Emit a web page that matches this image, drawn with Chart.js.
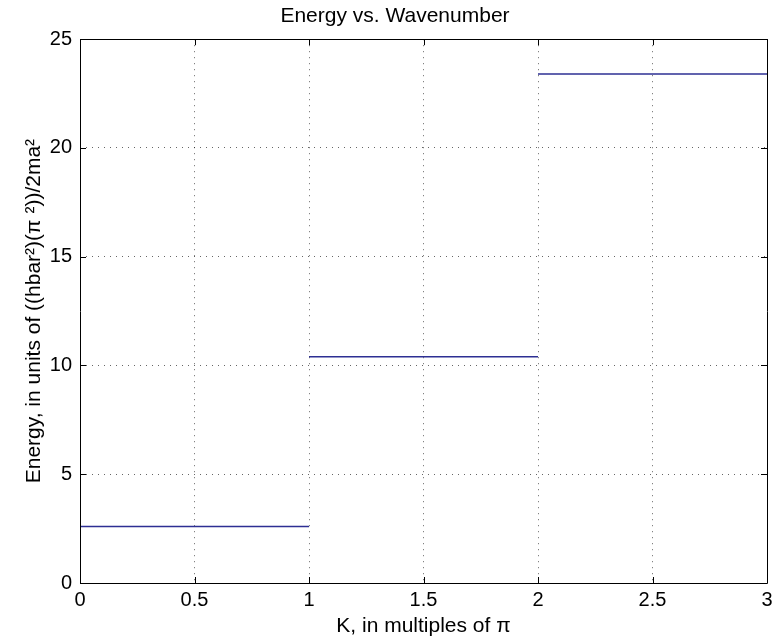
<!DOCTYPE html>
<html>
<head>
<meta charset="utf-8">
<script src="https://cdn.jsdelivr.net/npm/chart.js@4"></script>
<style>
  html, body { margin: 0; padding: 0; background: #fff; }
</style>
</head>
<body>
<canvas id="graph" width="772" height="641"></canvas>
<script>
// one flat band per interval of K
var kStart = [0, 1, 2];
var kEnd = [1, 2, 3];
var energy = [2.6, 10.4, 23.4];

var xTicks = [0, 0.5, 1, 1.5, 2, 2.5, 3];
var yTicks = [0, 5, 10, 15, 20, 25];

var lineColor = '#2d2f93';
var font = "'Liberation Sans', Arial, Helvetica, sans-serif";

var datasets = kStart.map(function (k, i) {
  return {
    label: 'band ' + (i + 1),
    data: [{ x: k, y: energy[i] }, { x: kEnd[i], y: energy[i] }],
    borderColor: lineColor,
    borderWidth: 1.6,
    pointRadius: 0,
    showLine: true,
    fill: false
  };
});

// matlab style box with inward ticks
var boxPlugin = {
  id: 'box',
  afterDraw: function (chart) {
    var ctx = chart.ctx;
    var a = chart.chartArea;
    var xs = chart.scales.x;
    var ys = chart.scales.y;
    var len = 6;
    ctx.save();
    ctx.strokeStyle = '#000';
    ctx.lineWidth = 1;
    ctx.beginPath();
    ctx.rect(Math.round(a.left) + 0.5, Math.round(a.top) + 0.5,
      Math.round(a.right - a.left), Math.round(a.bottom - a.top));
    xTicks.forEach(function (t) {
      var px = Math.round(xs.getPixelForValue(t)) + 0.5;
      ctx.moveTo(px, a.bottom);
      ctx.lineTo(px, a.bottom - len);
      ctx.moveTo(px, a.top);
      ctx.lineTo(px, a.top + len);
    });
    yTicks.forEach(function (t) {
      var py = Math.round(ys.getPixelForValue(t)) + 0.5;
      ctx.moveTo(a.left, py);
      ctx.lineTo(a.left + len, py);
      ctx.moveTo(a.right, py);
      ctx.lineTo(a.right - len, py);
    });
    ctx.stroke();
    ctx.restore();
  }
};

function plain(v) { return String(v); }

var graph = document.getElementById('graph').getContext('2d');

var myChart = new Chart(graph, {
  type: 'scatter',
  data: { datasets: datasets },
  plugins: [boxPlugin],
  options: {
    responsive: false,
    animation: false,
    layout: {
      padding: { left: 18, right: 0, top: 0, bottom: 0 }
    },
    scales: {
      x: {
        type: 'linear',
        min: 0,
        max: 3,
        afterBuildTicks: function (scale) {
          scale.ticks = xTicks.map(function (v) { return { value: v }; });
        },
        afterFit: function (scale) {
          scale.height = 58;
          scale.paddingRight = 5;
        },
        ticks: {
          color: '#000',
          padding: 5,
          maxRotation: 0,
          callback: plain,
          font: { family: font, size: 20 }
        },
        grid: {
          color: 'rgba(0, 0, 0, 0.6)',
          drawTicks: false
        },
        border: { display: false, dash: [1, 5] },
        title: {
          display: true,
          text: 'K, in multiples of \u03c0',
          color: '#000',
          padding: { top: 0, bottom: 2 },
          font: { family: font, size: 21 }
        }
      },
      y: {
        type: 'linear',
        min: 0,
        max: 25,
        afterBuildTicks: function (scale) {
          scale.ticks = yTicks.map(function (v) { return { value: v }; });
        },
        afterFit: function (scale) { scale.width = 62; },
        ticks: {
          color: '#000',
          padding: 8,
          callback: plain,
          font: { family: font, size: 20 }
        },
        grid: {
          color: 'rgba(0, 0, 0, 0.6)',
          drawTicks: false
        },
        border: { display: false, dash: [1, 5] },
        title: {
          display: true,
          text: 'Energy, in units of ((hbar\u00b2)(\u03c0 \u00b2))/2ma\u00b2',
          color: '#000',
          padding: { top: 4, bottom: 0 },
          font: { family: font, size: 21 }
        }
      }
    },
    plugins: {
      legend: { display: false },
      tooltip: { enabled: false },
      title: {
        display: true,
        text: 'Energy vs. Wavenumber',
        color: '#000',
        padding: { top: 4, bottom: 10 },
        font: { family: font, size: 21, weight: 'normal' }
      }
    }
  }
});
</script>
</body>
</html>
